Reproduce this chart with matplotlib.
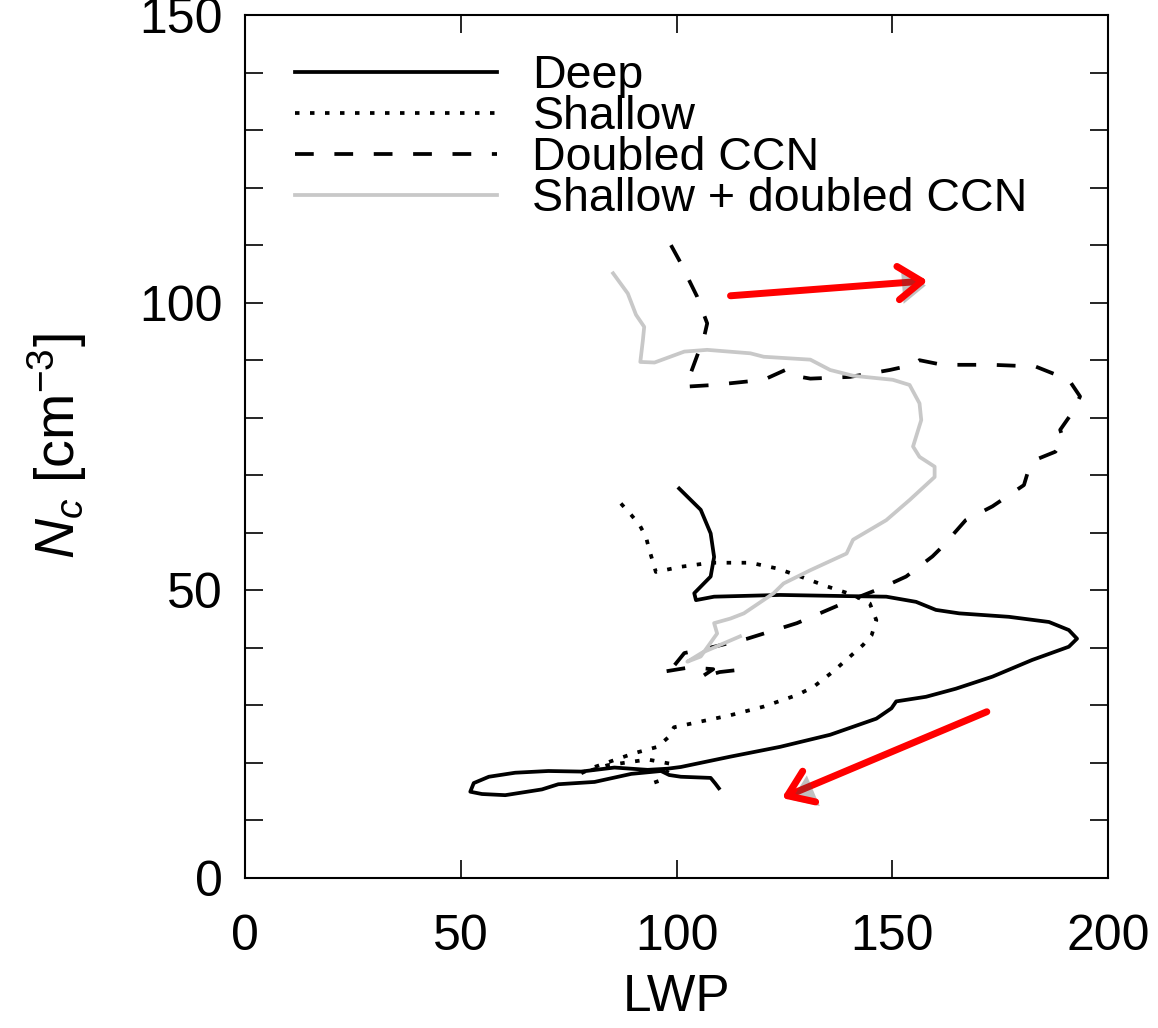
import matplotlib
matplotlib.use('Agg')
import matplotlib.pyplot as plt
import matplotlib.patheffects as pe
from matplotlib.ticker import MultipleLocator

plt.rcParams['font.family'] = ['Liberation Sans', 'DejaVu Sans']
plt.rcParams['mathtext.fontset'] = 'custom'
plt.rcParams['mathtext.rm'] = 'Liberation Sans'
plt.rcParams['mathtext.it'] = 'Liberation Sans:italic'

# Deep
deep_x = [100.6, 105.6, 107.9, 108.7, 107.9, 104.1, 104.5, 108.7, 124, 139.4, 148.6, 155.5, 160.1, 165.5,
          177, 186.3, 190.9, 192.8, 190.9, 182.4, 173.2, 164.7, 157.8, 150.9, 149.8, 146.3, 135.6, 124,
          112.5, 101, 97.9, 93.3, 85.6, 77.9, 70.3, 62.6, 56.5, 53, 52.2, 54.9, 60.3, 68.8, 72.6, 81,
          89.5, 96.4, 98.3, 101, 107.9, 109, 109.8]
deep_y = [67.7, 64, 59.9, 55.8, 52.4, 49.5, 48.3, 48.9, 49.2, 49, 48.9, 48, 46.6, 46,
          45.4, 44.5, 43.1, 41.6, 40.2, 37.9, 35, 32.9, 31.5, 30.7, 29.5, 27.7, 24.9, 22.8,
          21.1, 19.3, 19, 18.8, 19.2, 18.5, 18.6, 18.3, 17.6, 16.5, 15, 14.6, 14.4, 15.4, 16.3, 16.7,
          18.1, 18.6, 17.9, 17.6, 17.4, 16.4, 15.6]

# Shallow
shal_x = [87.1, 89.5, 91.4, 92.9, 93.7, 94.5, 95.2, 101, 107.9, 117.1, 123.3, 128.7, 134.8, 140.9,
          144.8, 146.3, 145.2, 143.2, 140.2, 136.3, 131.7, 127.9, 120.2, 112.5, 105.6, 99.4, 98.3,
          95.6, 90.2, 85.6, 81, 77.9, 84, 93.3, 99, 96.4, 93.3]
shal_y = [65.1, 63.1, 61.4, 59.3, 57, 55, 53.2, 54.1, 54.8, 54.8, 53.8, 52.4, 50.7, 49.2,
          47.7, 44.8, 42.2, 40.5, 38.5, 35.9, 33.2, 31.8, 29.8, 28.3, 27.2, 26.2, 24.6,
          22.8, 21.7, 20.5, 19.3, 18.2, 19.6, 20.6, 19.8, 17, 16.2]

# Doubled CCN
dccn_x = [98.7, 100.6, 104.8, 107.1, 106.4, 103.7, 102.1, 108.7, 120.2, 125.2, 126.4, 131, 140.2,
          149.4, 154.8, 156.3, 161.6, 173.2, 183.2, 190.9, 193.5, 191.6, 188.9, 189.7, 187.8, 183.2,
          181.3, 180.5, 173.2, 167, 161.6, 159.3, 153.2, 147.1, 139.4, 127.9, 116.4, 108.7, 101.8,
          99, 96.5, 103, 108.5, 105.5, 110, 117]
dccn_y = [110, 107.4, 101, 96.4, 94.1, 88.6, 85.4, 85.7, 86.6, 88.3, 87.4, 86.8, 87.1,
          88.3, 89.2, 90, 89.2, 89.2, 88.9, 86.6, 83.7, 80.8, 77.9, 76.1, 74.1, 72.7,
          70.3, 68.3, 64.6, 62.2, 57.6, 55.9, 52.4, 50.3, 48, 44.3, 41.6, 40.2, 39.1,
          36.5, 35.8, 36.6, 36.3, 34.8, 35.8, 36.4]

# Shallow + doubled CCN
sdc_x = [85.3, 88.7, 90.6, 92.5, 92.2, 91.6, 94.9, 101.8, 107.1, 117.1, 120.2, 131, 135.6, 140.9,
         150.1, 154, 156.3, 156.7, 154.8, 156.3, 159.8, 159.8, 154, 148.6, 140.9, 139.4, 131,
         124.8, 122.5, 115.6, 112.5, 108.7, 109.4, 105.6, 102.5, 106, 114.7]
sdc_y = [105.1, 101.6, 97.9, 95.8, 93.5, 89.7, 89.6, 91.5, 91.8, 91.2, 90.6, 90.1, 88.3, 87.3,
         86.6, 85.7, 82.5, 79.6, 75, 73.2, 71.5, 69.7, 65.7, 62.2, 58.8, 56.4, 53.5,
         51.2, 49.5, 46, 45.1, 44.3, 42.5, 38.5, 37.6, 39.2, 42]

labels = ['Deep', 'Shallow', 'Doubled CCN', 'Shallow + doubled CCN']

fig = plt.figure(figsize=(11.58, 10.28), dpi=100)
ax = fig.add_axes([0.2116, 0.1459, 0.7453, 0.8395])

lw = 2.7
ax.plot(deep_x, deep_y, color='black', lw=lw, label=labels[0], solid_joinstyle='round')
ax.plot(shal_x, shal_y, color='black', lw=lw, dashes=(1.2, 2.8), label=labels[1])
ax.plot(dccn_x, dccn_y, color='black', lw=lw, dashes=(5, 5.5), label=labels[2])
ax.plot(sdc_x, sdc_y, color='#c8c8c8', lw=lw, label=labels[3], solid_joinstyle='round')

shadow = [pe.SimplePatchShadow(offset=(3, -3), alpha=0.35), pe.Normal()]
for tail, head in [((112.5, 101.2), (158.2, 103.8)), ((171.9, 28.9), (124.4, 13.9))]:
    a = ax.annotate('', xy=head, xytext=tail,
                    arrowprops=dict(arrowstyle='->,head_length=0.85,head_width=0.6',
                                    color='#ff0000', lw=5, mutation_scale=20,
                                    shrinkA=0, shrinkB=0))
    a.arrow_patch.set_path_effects(shadow)

ax.set_xlim(0, 200)
ax.set_ylim(0, 150)
ax.xaxis.set_major_locator(MultipleLocator(50))
ax.yaxis.set_major_locator(MultipleLocator(50))
ax.yaxis.set_minor_locator(MultipleLocator(10))
ax.tick_params(which='both', direction='in', top=True, right=True, length=13, width=1.2)
ax.tick_params(axis='x', labelsize=36, pad=26)
ax.tick_params(axis='y', labelsize=36, pad=16)
for s in ax.spines.values():
    s.set_linewidth(1.5)

ax.set_xlabel('LWP', fontsize=37, labelpad=9)
ax.set_ylabel(r'$N_c$ [cm$^{-3}$]', fontsize=40, labelpad=36)

ax.legend(loc='upper left', bbox_to_anchor=(0.058, 0.955), frameon=False, fontsize=33.5,
          handlelength=4.35, handletextpad=0.75, labelspacing=-0.06, borderpad=0, borderaxespad=0)

fig.savefig('out.png', dpi=100)
